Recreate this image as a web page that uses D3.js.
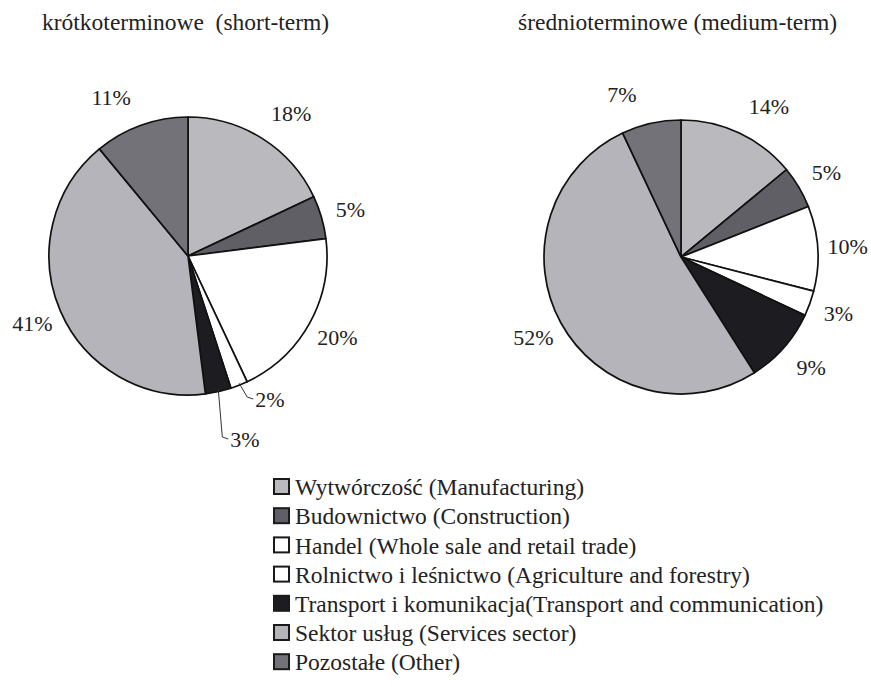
<!DOCTYPE html>
<html>
<head>
<meta charset="utf-8">
<script src="https://d3js.org/d3.v7.min.js"></script>
<style>
  body { margin: 0; background: #fff; }
</style>
</head>
<body>
<svg id="chart" width="871" height="687"></svg>
<script>
// sectors, in drawing order (clockwise from 12 o'clock)
var sectors = [
  "Wytwórczość (Manufacturing)",
  "Budownictwo (Construction)",
  "Handel (Whole sale and retail trade)",
  "Rolnictwo i leśnictwo (Agriculture and forestry)",
  "Transport i komunikacja(Transport and communication)",
  "Sektor usług (Services sector)",
  "Pozostałe (Other)"
];
var sectorColors = ["#b9b9be", "#5f5f65", "#ffffff", "#ffffff", "#1d1c21", "#b4b4ba", "#727278"];

var shortTermTitle = "krótkoterminowe  (short-term)";
var shortTerm = [18, 5, 20, 2, 3, 41, 11];

var mediumTermTitle = "średnioterminowe (medium-term)";
var mediumTerm = [14, 5, 10, 3, 9, 52, 7];

var svg = d3.select("#chart");
var font = "'Liberation Serif'";

var pie = d3.pie().sort(null).value(d => d);

function label(sel, size) {
  return sel.attr("font-family", font).attr("fill", "#222").style("font-size", size || "22px");
}

function drawPie(values, title, cx, cy, r, titleX, leaders) {
  var g = svg.append("g").attr("transform", "translate(" + cx + "," + cy + ")");
  var arcs = pie(values);
  var arc = d3.arc().innerRadius(0).outerRadius(r);
  var labelArc = d3.arc().innerRadius(r + 30).outerRadius(r + 30);
  var edgeArc = d3.arc().innerRadius(r).outerRadius(r);

  g.selectAll("path").data(arcs).enter().append("path")
    .attr("d", arc)
    .attr("fill", (d, i) => sectorColors[i])
    .attr("stroke", "#111")
    .attr("stroke-width", 1.7)
    .attr("stroke-linejoin", "round");

  var k = 0;
  arcs.forEach(function(d, i) {
    var txt = values[i] + "%";
    if (leaders && values[i] < 4) {
      // small slices: leader line dropping below the pie
      var p = edgeArc.centroid(d);
      var yEnd = r + 4 + k * 40;
      var bend = k == 0 ? 8 : 4;
      g.append("path")
        .attr("d", "M" + p[0] + "," + (p[1] - 2) + "L" + (p[0] + bend) + "," + (yEnd - 2) + "L" + (p[0] + bend + 6) + "," + yEnd)
        .attr("fill", "none").attr("stroke", "#333").attr("stroke-width", 1);
      label(g.append("text")).attr("x", p[0] + bend + 8).attr("y", yEnd).attr("dy", "0.35em").text(txt);
      k++;
    } else {
      var c = labelArc.centroid(d);
      // labels near 12 o'clock sit a little further out sideways
      var a = (d.startAngle + d.endAngle) / 2;
      var shift = 25 * Math.sign(Math.sin(a)) * Math.pow(Math.cos(a), 4);
      label(g.append("text")).attr("x", c[0] + shift).attr("y", c[1]).attr("dy", "0.35em")
        .attr("text-anchor", "middle").text(txt);
    }
  });

  label(svg.append("text"), "23.5px").attr("x", titleX).attr("y", 30)
    .style("white-space", "pre").text(title);
}

drawPie(shortTerm, shortTermTitle, 188, 256, 139, 42, true);
drawPie(mediumTerm, mediumTermTitle, 681, 257, 137, 518, false);

// legend
var legend = svg.append("g").attr("transform", "translate(273,478)");
var row = legend.selectAll("g").data(sectors).enter().append("g")
  .attr("transform", (d, i) => "translate(0," + (i * 29.2) + ")");
row.append("rect").attr("x", 1).attr("y", 1).attr("width", 15).attr("height", 15)
  .attr("fill", (d, i) => sectorColors[i]).attr("stroke", "#1a1a1a").attr("stroke-width", 2);
label(row.append("text"), "23.5px").attr("x", 22).attr("y", 9).attr("dy", "0.35em").text(d => d);
</script>
</body>
</html>
